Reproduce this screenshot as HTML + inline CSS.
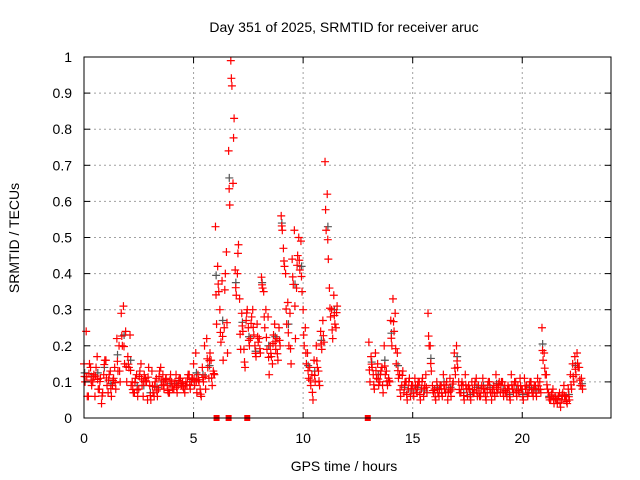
<!DOCTYPE html>
<html><head><meta charset="utf-8"><style>
body{margin:0;background:#fff}
svg{display:block;font-family:"Liberation Sans",sans-serif}
</style></head><body>
<svg id="chart" width="640" height="480" viewBox="0 0 640 480" xmlns="http://www.w3.org/2000/svg">
<rect width="640" height="480" fill="#fff"/>
<text x="344" y="32" font-size="14" text-anchor="middle">Day 351 of 2025, SRMTID for receiver aruc</text>
<text x="344" y="471" font-size="14" text-anchor="middle">GPS time / hours</text>
<text transform="translate(19,238) rotate(-90)" font-size="14" text-anchor="middle">SRMTID / TECUs</text>
<g id="grid"></g><g id="marks"></g><g id="axes"></g>
</svg>
<script>
const xTicks=[0,5,10,15,20];
const yTicks=[0,0.1,0.2,0.3,0.4,0.5,0.6,0.7,0.8,0.9,1];
const yTickLabels=["0","0.1","0.2","0.3","0.4","0.5","0.6","0.7","0.8","0.9","1"];
const segmentStarts=[0,13];
const segmentCounts=[116,98];
const upperA=[0.15,0.24,0.06,0.14,0.10,0.06,0.17,0.08,0.04,0.12,
0.16,0.07,0.13,0.09,0.14,0.22,0.20,0.29,0.31,0.24,
0.17,0.23,0.10,0.07,0.12,0.08,0.15,0.06,0.11,0.05,
0.09,0.13,0.06,0.11,0.08,0.14,0.12,0.10,0.09,0.07,
0.10,0.08,0.12,0.09,0.11,0.10,0.07,0.09,0.12,0.10,
0.15,0.18,0.12,0.08,0.14,0.20,0.22,0.11,0.16,0.13,
0.53,0.42,0.30,0.38,0.25,0.46,0.74,0.99,0.65,0.41,
0.40,0.33,0.29,0.19,0.27,0.25,0.22,0.30,0.20,0.26,
0.22,0.39,0.35,0.30,0.28,0.20,0.15,0.26,0.22,0.25,
0.56,0.47,0.40,0.32,0.29,0.44,0.52,0.36,0.50,0.49,
0.30,0.25,0.18,0.14,0.12,0.16,0.20,0.13,0.24,0.27,
0.71,0.62,0.36,0.30,0.34,0.25];
const upperB=[0.21,0.17,0.12,0.18,0.15,0.10,0.14,0.20,0.13,0.11,
0.27,0.33,0.29,0.18,0.12,0.09,0.07,0.10,0.08,0.06,
0.09,0.11,0.07,0.10,0.08,0.06,0.12,0.29,0.20,0.09,
0.08,0.10,0.06,0.09,0.12,0.07,0.05,0.11,0.08,0.18,
0.20,0.10,0.07,0.09,0.12,0.06,0.08,0.10,0.07,0.11,
0.09,0.06,0.11,0.08,0.07,0.10,0.05,0.09,0.12,0.08,
0.07,0.10,0.09,0.06,0.08,0.12,0.07,0.10,0.09,0.11,
0.08,0.11,0.09,0.07,0.10,0.06,0.09,0.11,0.10,0.25,
0.18,0.12,0.07,0.05,0.08,0.06,0.04,0.07,0.05,0.09,
0.06,0.08,0.12,0.15,0.17,0.18,0.14,0.11];
const lowerA=[0.10,0.06,0.15,0.09,0.12,0.14,0.08,0.11,0.07,0.16,
0.09,0.12,0.06,0.11,0.08,0.13,0.10,0.20,0.15,0.10,
0.14,0.09,0.07,0.11,0.06,0.13,0.09,0.12,0.10,0.14,
0.05,0.07,0.10,0.06,0.13,0.09,0.08,0.11,0.07,0.12,
0.08,0.10,0.07,0.11,0.09,0.08,0.10,0.12,0.08,0.11,
0.09,0.07,0.10,0.06,0.10,0.08,0.14,0.18,0.09,0.12,
0.26,0.35,0.21,0.16,0.40,0.18,0.59,0.92,0.83,0.34,
0.48,0.19,0.24,0.14,0.30,0.20,0.28,0.23,0.17,0.21,
0.18,0.36,0.25,0.19,0.12,0.17,0.23,0.19,0.16,0.20,
0.52,0.42,0.26,0.20,0.15,0.37,0.22,0.45,0.41,0.35,
0.20,0.15,0.11,0.09,0.05,0.10,0.14,0.09,0.19,0.21,
0.52,0.44,0.28,0.22,0.26,0.31];
const lowerB=[0.10,0.14,0.08,0.11,0.09,0.13,0.07,0.12,0.09,0.10,
0.20,0.24,0.15,0.11,0.06,0.13,0.10,0.05,0.11,0.09,
0.06,0.08,0.10,0.05,0.11,0.09,0.07,0.20,0.13,0.07,
0.05,0.07,0.09,0.06,0.08,0.10,0.08,0.06,0.10,0.12,
0.14,0.07,0.10,0.05,0.08,0.09,0.05,0.07,0.10,0.06,
0.06,0.09,0.07,0.05,0.10,0.07,0.08,0.06,0.07,0.10,
0.10,0.06,0.07,0.09,0.05,0.08,0.10,0.06,0.07,0.08,
0.05,0.08,0.06,0.10,0.07,0.09,0.06,0.08,0.07,0.16,
0.12,0.08,0.05,0.07,0.04,0.05,0.06,0.03,0.07,0.05,
0.04,0.05,0.08,0.10,0.12,0.14,0.09,0.08];
const zeroHours=[6.05,6.6,7.45,12.95];
const upper=upperA.concat(upperB), lower=lowerA.concat(lowerB);
const hours=[];
segmentStarts.forEach((s,k)=>{for(let i=0;i<segmentCounts[k];i++)hours.push(s+i*0.1);});

const L=84,R=611,T=57,B=418,XMAX=24.05;
const xs=h=>L+h/XMAX*(R-L), ys=v=>B-v*(B-T);
const NS="http://www.w3.org/2000/svg";
function mk(tag,attrs,parent){const e=document.createElementNS(NS,tag);for(const k in attrs)e.setAttribute(k,attrs[k]);parent.appendChild(e);return e;}
const grid=document.getElementById('grid'),marks=document.getElementById('marks'),axes=document.getElementById('axes');
yTicks.forEach((v,i)=>{
  if(v>0&&v<1){const g=mk('line',{x1:L,x2:R,y1:ys(v),y2:ys(v),stroke:'#a0a0a0','stroke-dasharray':'2,3','stroke-width':1},grid);
  
  }
  const t=mk('text',{x:L-12,y:ys(v)+5,'font-size':14,'text-anchor':'end'},axes);t.textContent=yTickLabels[i];
  
  
  mk('line',{x1:L,x2:L+6,y1:ys(v),y2:ys(v),stroke:'#000'},axes);
  mk('line',{x1:R,x2:R-6,y1:ys(v),y2:ys(v),stroke:'#000'},axes);
});
xTicks.forEach(h=>{
  if(h>0){const g=mk('line',{x1:xs(h),x2:xs(h),y1:T,y2:B,stroke:'#a0a0a0','stroke-dasharray':'2,3'},grid);
  
  }
  const t=mk('text',{x:xs(h),y:B+25,'font-size':14,'text-anchor':'middle'},axes);t.textContent=String(h);
  
  
  mk('line',{x1:xs(h),x2:xs(h),y1:B,y2:B-6,stroke:'#000'},axes);
  mk('line',{x1:xs(h),x2:xs(h),y1:T,y2:T+6,stroke:'#000'},axes);
});
const frame=mk('rect',{x:L,y:T,width:R-L,height:B-T,fill:'none',stroke:'#000'},axes);


function plus(x,y,c){const p=mk('path',{d:`M${x-4} ${y}h8M${x} ${y-4}v8`,stroke:c,'stroke-width':1.2,fill:'none'},marks);return p;}
hours.forEach((h,i)=>{
  if(i%3!==0)return;
  const g=plus(xs(h+0.03),ys((upper[i]+lower[i])/2),'#555');
  
  
});
hours.forEach((h,i)=>{
  const a=plus(xs(h),ys(upper[i]),'#f00');
  
  
  const b=plus(xs(h+0.05),ys(lower[i]),'#f00');
  
  
  const c=plus(xs(h+0.025),ys((upper[i]*0.3+lower[i]*0.7)),'#f00');
  
  
});
zeroHours.forEach(h=>{
  const r=mk('rect',{x:xs(h)-3,y:B-3,width:6,height:6,fill:'#f00'},marks);
  
  
});
</script>
</body></html>
